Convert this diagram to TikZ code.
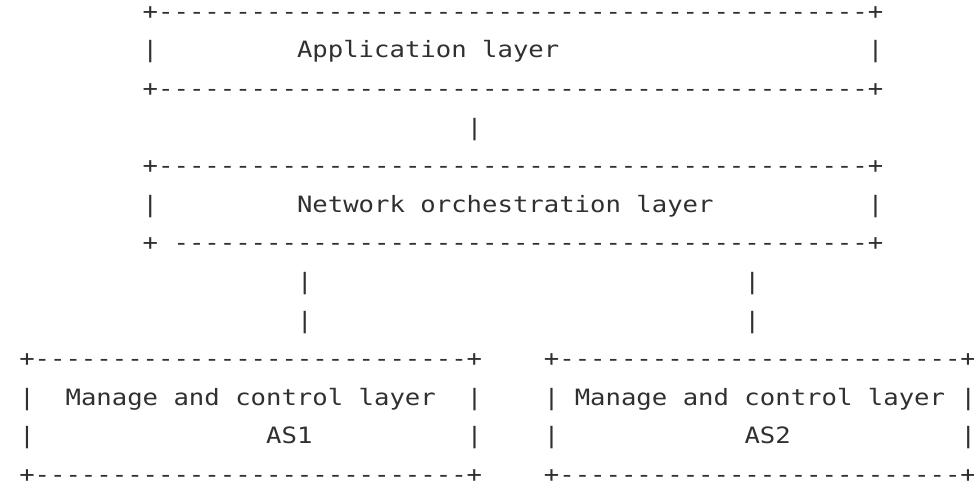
\documentclass[tikz,border=0pt]{standalone}
\usepackage{fontspec}
\newfontfamily\asciifont{DejaVu Sans Mono}[FakeStretch=1.139]
\definecolor{ink}{HTML}{303030}
% a run of n hyphens, kept apart so no dash ligature can form
\newcommand\dashrun[1]{\ifnum#1>0 -\kern0pt\expandafter\dashrun\expandafter{\the\numexpr#1-1\relax}\fi}
\tikzset{
  ascii/.style={anchor=base west, inner sep=0pt, outer sep=0pt,
    font=\asciifont\fontsize{22.5}{27}\selectfont, text=ink},
}
\begin{document}
\begin{tikzpicture}
\useasboundingbox (0,0) rectangle (974pt,483pt);
% character grid: x = column, y = text row (downwards)
\begin{scope}[x=15.43pt, y=-38.6pt, shift={(19.285pt,463.7pt)}]
  % application layer box
  \node[ascii] (appTop) at (8,0) {+\dashrun{46}+};
  \node[ascii] (appL)   at (8,1) {|};
  \node[ascii] (appTxt) at (18,1) {Application layer};
  \node[ascii] (appR)   at (55,1) {|};
  \node[ascii] (appBot) at (8,2) {+\dashrun{46}+};
  % link to the orchestration layer
  \node[ascii] (link0)  at (29,3) {|};
  % network orchestration layer box
  \node[ascii] (orchTop) at (8,4) {+\dashrun{46}+};
  \node[ascii] (orchL)   at (8,5) {|};
  \node[ascii] (orchTxt) at (18,5) {Network orchestration layer};
  \node[ascii] (orchR)   at (55,5) {|};
  \node[ascii] (orchBotA) at (8,6) {+};
  \node[ascii] (orchBotB) at (10,6) {\dashrun{45}+};
  % links down to the two domains
  \node[ascii] (linkA1) at (18,7) {|};
  \node[ascii] (linkB1) at (47,7) {|};
  \node[ascii] (linkA2) at (18,8) {|};
  \node[ascii] (linkB2) at (47,8) {|};
  % AS1 box
  \node[ascii] (as1Top)  at (0,9)  {+\dashrun{28}+};
  \node[ascii] (as1L)    at (0,10) {|};
  \node[ascii] (as1Txt)  at (3,10) {Manage and control layer};
  \node[ascii] (as1R)    at (29,10) {|};
  \node[ascii] (as1L2)   at (0,11) {|};
  \node[ascii] (as1Name) at (16,11) {AS1};
  \node[ascii] (as1R2)   at (29,11) {|};
  \node[ascii] (as1Bot)  at (0,12) {+\dashrun{28}+};
  % AS2 box
  \node[ascii] (as2Top)  at (34,9)  {+\dashrun{26}+};
  \node[ascii] (as2L)    at (34,10) {|};
  \node[ascii] (as2Txt)  at (36,10) {Manage and control layer};
  \node[ascii] (as2R)    at (61,10) {|};
  \node[ascii] (as2L2)   at (34,11) {|};
  \node[ascii] (as2Name) at (47,11) {AS2};
  \node[ascii] (as2R2)   at (61,11) {|};
  \node[ascii] (as2Bot)  at (34,12) {+\dashrun{26}+};
\end{scope}
\end{tikzpicture}
\end{document}
